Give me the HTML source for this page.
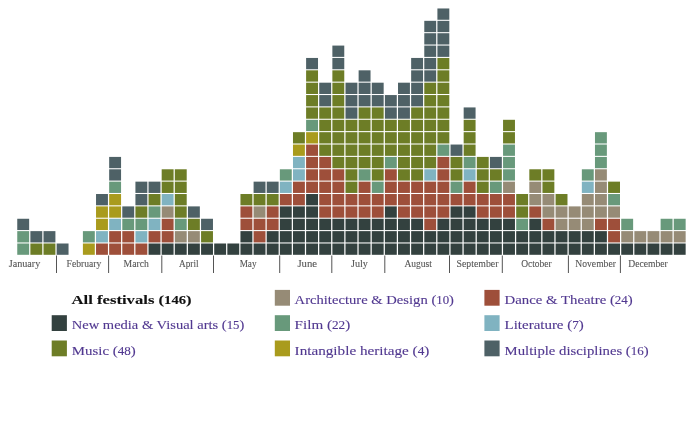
<!DOCTYPE html>
<html><head><meta charset="utf-8"><style>
html,body{margin:0;padding:0;background:#fff;width:690px;height:424px;overflow:hidden}
svg{position:absolute;left:0;top:0;will-change:transform}
.m{font-family:"Liberation Serif",serif;font-size:10.2px;fill:#555;stroke:#555;stroke-width:0.1px}
.d{font-size:11.6px}
.lg{font-family:"Liberation Serif",serif;font-size:13.2px;fill:#513890;stroke:#513890;stroke-width:0.12px}
.lb{font-family:"Liberation Serif",serif;font-size:13.2px;fill:#111;font-weight:bold;stroke:#111;stroke-width:0.1px}
</style></head><body>
<svg width="690" height="424" viewBox="0 0 690 424">
<g>
<rect x="17.25" y="243.50" width="11.9" height="11.3" fill="#68997b"/>
<rect x="17.25" y="231.13" width="11.9" height="11.3" fill="#68997b"/>
<rect x="17.25" y="218.76" width="11.9" height="11.3" fill="#4e6166"/>
<rect x="30.38" y="243.50" width="11.9" height="11.3" fill="#6d7d26"/>
<rect x="30.38" y="231.13" width="11.9" height="11.3" fill="#4e6166"/>
<rect x="43.51" y="243.50" width="11.9" height="11.3" fill="#6d7d26"/>
<rect x="43.51" y="231.13" width="11.9" height="11.3" fill="#4e6166"/>
<rect x="56.64" y="243.50" width="11.9" height="11.3" fill="#4e6166"/>
<rect x="82.90" y="243.50" width="11.9" height="11.3" fill="#a99b1d"/>
<rect x="82.90" y="231.13" width="11.9" height="11.3" fill="#68997b"/>
<rect x="96.03" y="243.50" width="11.9" height="11.3" fill="#9e4f3a"/>
<rect x="96.03" y="231.13" width="11.9" height="11.3" fill="#80b3c1"/>
<rect x="96.03" y="218.76" width="11.9" height="11.3" fill="#a99b1d"/>
<rect x="96.03" y="206.39" width="11.9" height="11.3" fill="#a99b1d"/>
<rect x="96.03" y="194.02" width="11.9" height="11.3" fill="#4e6166"/>
<rect x="109.16" y="243.50" width="11.9" height="11.3" fill="#9e4f3a"/>
<rect x="109.16" y="231.13" width="11.9" height="11.3" fill="#9e4f3a"/>
<rect x="109.16" y="218.76" width="11.9" height="11.3" fill="#80b3c1"/>
<rect x="109.16" y="206.39" width="11.9" height="11.3" fill="#a99b1d"/>
<rect x="109.16" y="194.02" width="11.9" height="11.3" fill="#a99b1d"/>
<rect x="109.16" y="181.65" width="11.9" height="11.3" fill="#68997b"/>
<rect x="109.16" y="169.28" width="11.9" height="11.3" fill="#4e6166"/>
<rect x="109.16" y="156.91" width="11.9" height="11.3" fill="#4e6166"/>
<rect x="122.29" y="243.50" width="11.9" height="11.3" fill="#9e4f3a"/>
<rect x="122.29" y="231.13" width="11.9" height="11.3" fill="#9e4f3a"/>
<rect x="122.29" y="218.76" width="11.9" height="11.3" fill="#68997b"/>
<rect x="122.29" y="206.39" width="11.9" height="11.3" fill="#4e6166"/>
<rect x="135.42" y="243.50" width="11.9" height="11.3" fill="#9e4f3a"/>
<rect x="135.42" y="231.13" width="11.9" height="11.3" fill="#80b3c1"/>
<rect x="135.42" y="218.76" width="11.9" height="11.3" fill="#68997b"/>
<rect x="135.42" y="206.39" width="11.9" height="11.3" fill="#6d7d26"/>
<rect x="135.42" y="194.02" width="11.9" height="11.3" fill="#4e6166"/>
<rect x="135.42" y="181.65" width="11.9" height="11.3" fill="#4e6166"/>
<rect x="148.55" y="243.50" width="11.9" height="11.3" fill="#33413f"/>
<rect x="148.55" y="231.13" width="11.9" height="11.3" fill="#9e4f3a"/>
<rect x="148.55" y="218.76" width="11.9" height="11.3" fill="#80b3c1"/>
<rect x="148.55" y="206.39" width="11.9" height="11.3" fill="#68997b"/>
<rect x="148.55" y="194.02" width="11.9" height="11.3" fill="#6d7d26"/>
<rect x="148.55" y="181.65" width="11.9" height="11.3" fill="#4e6166"/>
<rect x="161.68" y="243.50" width="11.9" height="11.3" fill="#33413f"/>
<rect x="161.68" y="231.13" width="11.9" height="11.3" fill="#9e4f3a"/>
<rect x="161.68" y="218.76" width="11.9" height="11.3" fill="#9e4f3a"/>
<rect x="161.68" y="206.39" width="11.9" height="11.3" fill="#968b76"/>
<rect x="161.68" y="194.02" width="11.9" height="11.3" fill="#80b3c1"/>
<rect x="161.68" y="181.65" width="11.9" height="11.3" fill="#6d7d26"/>
<rect x="161.68" y="169.28" width="11.9" height="11.3" fill="#6d7d26"/>
<rect x="174.81" y="243.50" width="11.9" height="11.3" fill="#33413f"/>
<rect x="174.81" y="231.13" width="11.9" height="11.3" fill="#968b76"/>
<rect x="174.81" y="218.76" width="11.9" height="11.3" fill="#68997b"/>
<rect x="174.81" y="206.39" width="11.9" height="11.3" fill="#6d7d26"/>
<rect x="174.81" y="194.02" width="11.9" height="11.3" fill="#6d7d26"/>
<rect x="174.81" y="181.65" width="11.9" height="11.3" fill="#6d7d26"/>
<rect x="174.81" y="169.28" width="11.9" height="11.3" fill="#6d7d26"/>
<rect x="187.94" y="243.50" width="11.9" height="11.3" fill="#33413f"/>
<rect x="187.94" y="231.13" width="11.9" height="11.3" fill="#968b76"/>
<rect x="187.94" y="218.76" width="11.9" height="11.3" fill="#6d7d26"/>
<rect x="187.94" y="206.39" width="11.9" height="11.3" fill="#4e6166"/>
<rect x="201.07" y="243.50" width="11.9" height="11.3" fill="#33413f"/>
<rect x="201.07" y="231.13" width="11.9" height="11.3" fill="#6d7d26"/>
<rect x="201.07" y="218.76" width="11.9" height="11.3" fill="#4e6166"/>
<rect x="214.20" y="243.50" width="11.9" height="11.3" fill="#33413f"/>
<rect x="227.33" y="243.50" width="11.9" height="11.3" fill="#33413f"/>
<rect x="240.46" y="243.50" width="11.9" height="11.3" fill="#33413f"/>
<rect x="240.46" y="231.13" width="11.9" height="11.3" fill="#33413f"/>
<rect x="240.46" y="218.76" width="11.9" height="11.3" fill="#9e4f3a"/>
<rect x="240.46" y="206.39" width="11.9" height="11.3" fill="#9e4f3a"/>
<rect x="240.46" y="194.02" width="11.9" height="11.3" fill="#6d7d26"/>
<rect x="253.59" y="243.50" width="11.9" height="11.3" fill="#33413f"/>
<rect x="253.59" y="231.13" width="11.9" height="11.3" fill="#9e4f3a"/>
<rect x="253.59" y="218.76" width="11.9" height="11.3" fill="#9e4f3a"/>
<rect x="253.59" y="206.39" width="11.9" height="11.3" fill="#968b76"/>
<rect x="253.59" y="194.02" width="11.9" height="11.3" fill="#6d7d26"/>
<rect x="253.59" y="181.65" width="11.9" height="11.3" fill="#4e6166"/>
<rect x="266.72" y="243.50" width="11.9" height="11.3" fill="#33413f"/>
<rect x="266.72" y="231.13" width="11.9" height="11.3" fill="#33413f"/>
<rect x="266.72" y="218.76" width="11.9" height="11.3" fill="#9e4f3a"/>
<rect x="266.72" y="206.39" width="11.9" height="11.3" fill="#9e4f3a"/>
<rect x="266.72" y="194.02" width="11.9" height="11.3" fill="#6d7d26"/>
<rect x="266.72" y="181.65" width="11.9" height="11.3" fill="#4e6166"/>
<rect x="279.85" y="243.50" width="11.9" height="11.3" fill="#33413f"/>
<rect x="279.85" y="231.13" width="11.9" height="11.3" fill="#33413f"/>
<rect x="279.85" y="218.76" width="11.9" height="11.3" fill="#33413f"/>
<rect x="279.85" y="206.39" width="11.9" height="11.3" fill="#33413f"/>
<rect x="279.85" y="194.02" width="11.9" height="11.3" fill="#9e4f3a"/>
<rect x="279.85" y="181.65" width="11.9" height="11.3" fill="#80b3c1"/>
<rect x="279.85" y="169.28" width="11.9" height="11.3" fill="#68997b"/>
<rect x="292.98" y="243.50" width="11.9" height="11.3" fill="#33413f"/>
<rect x="292.98" y="231.13" width="11.9" height="11.3" fill="#33413f"/>
<rect x="292.98" y="218.76" width="11.9" height="11.3" fill="#33413f"/>
<rect x="292.98" y="206.39" width="11.9" height="11.3" fill="#33413f"/>
<rect x="292.98" y="194.02" width="11.9" height="11.3" fill="#9e4f3a"/>
<rect x="292.98" y="181.65" width="11.9" height="11.3" fill="#9e4f3a"/>
<rect x="292.98" y="169.28" width="11.9" height="11.3" fill="#80b3c1"/>
<rect x="292.98" y="156.91" width="11.9" height="11.3" fill="#80b3c1"/>
<rect x="292.98" y="144.54" width="11.9" height="11.3" fill="#a99b1d"/>
<rect x="292.98" y="132.17" width="11.9" height="11.3" fill="#6d7d26"/>
<rect x="306.11" y="243.50" width="11.9" height="11.3" fill="#33413f"/>
<rect x="306.11" y="231.13" width="11.9" height="11.3" fill="#33413f"/>
<rect x="306.11" y="218.76" width="11.9" height="11.3" fill="#33413f"/>
<rect x="306.11" y="206.39" width="11.9" height="11.3" fill="#33413f"/>
<rect x="306.11" y="194.02" width="11.9" height="11.3" fill="#33413f"/>
<rect x="306.11" y="181.65" width="11.9" height="11.3" fill="#9e4f3a"/>
<rect x="306.11" y="169.28" width="11.9" height="11.3" fill="#9e4f3a"/>
<rect x="306.11" y="156.91" width="11.9" height="11.3" fill="#9e4f3a"/>
<rect x="306.11" y="144.54" width="11.9" height="11.3" fill="#9e4f3a"/>
<rect x="306.11" y="132.17" width="11.9" height="11.3" fill="#a99b1d"/>
<rect x="306.11" y="119.80" width="11.9" height="11.3" fill="#68997b"/>
<rect x="306.11" y="107.43" width="11.9" height="11.3" fill="#6d7d26"/>
<rect x="306.11" y="95.06" width="11.9" height="11.3" fill="#6d7d26"/>
<rect x="306.11" y="82.69" width="11.9" height="11.3" fill="#6d7d26"/>
<rect x="306.11" y="70.32" width="11.9" height="11.3" fill="#6d7d26"/>
<rect x="306.11" y="57.95" width="11.9" height="11.3" fill="#4e6166"/>
<rect x="319.24" y="243.50" width="11.9" height="11.3" fill="#33413f"/>
<rect x="319.24" y="231.13" width="11.9" height="11.3" fill="#33413f"/>
<rect x="319.24" y="218.76" width="11.9" height="11.3" fill="#33413f"/>
<rect x="319.24" y="206.39" width="11.9" height="11.3" fill="#9e4f3a"/>
<rect x="319.24" y="194.02" width="11.9" height="11.3" fill="#9e4f3a"/>
<rect x="319.24" y="181.65" width="11.9" height="11.3" fill="#9e4f3a"/>
<rect x="319.24" y="169.28" width="11.9" height="11.3" fill="#9e4f3a"/>
<rect x="319.24" y="156.91" width="11.9" height="11.3" fill="#9e4f3a"/>
<rect x="319.24" y="144.54" width="11.9" height="11.3" fill="#6d7d26"/>
<rect x="319.24" y="132.17" width="11.9" height="11.3" fill="#6d7d26"/>
<rect x="319.24" y="119.80" width="11.9" height="11.3" fill="#6d7d26"/>
<rect x="319.24" y="107.43" width="11.9" height="11.3" fill="#6d7d26"/>
<rect x="319.24" y="95.06" width="11.9" height="11.3" fill="#4e6166"/>
<rect x="319.24" y="82.69" width="11.9" height="11.3" fill="#4e6166"/>
<rect x="332.37" y="243.50" width="11.9" height="11.3" fill="#33413f"/>
<rect x="332.37" y="231.13" width="11.9" height="11.3" fill="#33413f"/>
<rect x="332.37" y="218.76" width="11.9" height="11.3" fill="#33413f"/>
<rect x="332.37" y="206.39" width="11.9" height="11.3" fill="#9e4f3a"/>
<rect x="332.37" y="194.02" width="11.9" height="11.3" fill="#9e4f3a"/>
<rect x="332.37" y="181.65" width="11.9" height="11.3" fill="#9e4f3a"/>
<rect x="332.37" y="169.28" width="11.9" height="11.3" fill="#9e4f3a"/>
<rect x="332.37" y="156.91" width="11.9" height="11.3" fill="#6d7d26"/>
<rect x="332.37" y="144.54" width="11.9" height="11.3" fill="#6d7d26"/>
<rect x="332.37" y="132.17" width="11.9" height="11.3" fill="#6d7d26"/>
<rect x="332.37" y="119.80" width="11.9" height="11.3" fill="#6d7d26"/>
<rect x="332.37" y="107.43" width="11.9" height="11.3" fill="#6d7d26"/>
<rect x="332.37" y="95.06" width="11.9" height="11.3" fill="#6d7d26"/>
<rect x="332.37" y="82.69" width="11.9" height="11.3" fill="#6d7d26"/>
<rect x="332.37" y="70.32" width="11.9" height="11.3" fill="#6d7d26"/>
<rect x="332.37" y="57.95" width="11.9" height="11.3" fill="#4e6166"/>
<rect x="332.37" y="45.58" width="11.9" height="11.3" fill="#4e6166"/>
<rect x="345.50" y="243.50" width="11.9" height="11.3" fill="#33413f"/>
<rect x="345.50" y="231.13" width="11.9" height="11.3" fill="#33413f"/>
<rect x="345.50" y="218.76" width="11.9" height="11.3" fill="#33413f"/>
<rect x="345.50" y="206.39" width="11.9" height="11.3" fill="#9e4f3a"/>
<rect x="345.50" y="194.02" width="11.9" height="11.3" fill="#9e4f3a"/>
<rect x="345.50" y="181.65" width="11.9" height="11.3" fill="#6d7d26"/>
<rect x="345.50" y="169.28" width="11.9" height="11.3" fill="#6d7d26"/>
<rect x="345.50" y="156.91" width="11.9" height="11.3" fill="#6d7d26"/>
<rect x="345.50" y="144.54" width="11.9" height="11.3" fill="#6d7d26"/>
<rect x="345.50" y="132.17" width="11.9" height="11.3" fill="#6d7d26"/>
<rect x="345.50" y="119.80" width="11.9" height="11.3" fill="#6d7d26"/>
<rect x="345.50" y="107.43" width="11.9" height="11.3" fill="#4e6166"/>
<rect x="345.50" y="95.06" width="11.9" height="11.3" fill="#4e6166"/>
<rect x="345.50" y="82.69" width="11.9" height="11.3" fill="#4e6166"/>
<rect x="358.63" y="243.50" width="11.9" height="11.3" fill="#33413f"/>
<rect x="358.63" y="231.13" width="11.9" height="11.3" fill="#33413f"/>
<rect x="358.63" y="218.76" width="11.9" height="11.3" fill="#33413f"/>
<rect x="358.63" y="206.39" width="11.9" height="11.3" fill="#9e4f3a"/>
<rect x="358.63" y="194.02" width="11.9" height="11.3" fill="#9e4f3a"/>
<rect x="358.63" y="181.65" width="11.9" height="11.3" fill="#9e4f3a"/>
<rect x="358.63" y="169.28" width="11.9" height="11.3" fill="#68997b"/>
<rect x="358.63" y="156.91" width="11.9" height="11.3" fill="#6d7d26"/>
<rect x="358.63" y="144.54" width="11.9" height="11.3" fill="#6d7d26"/>
<rect x="358.63" y="132.17" width="11.9" height="11.3" fill="#6d7d26"/>
<rect x="358.63" y="119.80" width="11.9" height="11.3" fill="#6d7d26"/>
<rect x="358.63" y="107.43" width="11.9" height="11.3" fill="#6d7d26"/>
<rect x="358.63" y="95.06" width="11.9" height="11.3" fill="#4e6166"/>
<rect x="358.63" y="82.69" width="11.9" height="11.3" fill="#4e6166"/>
<rect x="358.63" y="70.32" width="11.9" height="11.3" fill="#4e6166"/>
<rect x="371.76" y="243.50" width="11.9" height="11.3" fill="#33413f"/>
<rect x="371.76" y="231.13" width="11.9" height="11.3" fill="#33413f"/>
<rect x="371.76" y="218.76" width="11.9" height="11.3" fill="#33413f"/>
<rect x="371.76" y="206.39" width="11.9" height="11.3" fill="#9e4f3a"/>
<rect x="371.76" y="194.02" width="11.9" height="11.3" fill="#9e4f3a"/>
<rect x="371.76" y="181.65" width="11.9" height="11.3" fill="#68997b"/>
<rect x="371.76" y="169.28" width="11.9" height="11.3" fill="#6d7d26"/>
<rect x="371.76" y="156.91" width="11.9" height="11.3" fill="#6d7d26"/>
<rect x="371.76" y="144.54" width="11.9" height="11.3" fill="#6d7d26"/>
<rect x="371.76" y="132.17" width="11.9" height="11.3" fill="#6d7d26"/>
<rect x="371.76" y="119.80" width="11.9" height="11.3" fill="#6d7d26"/>
<rect x="371.76" y="107.43" width="11.9" height="11.3" fill="#6d7d26"/>
<rect x="371.76" y="95.06" width="11.9" height="11.3" fill="#4e6166"/>
<rect x="371.76" y="82.69" width="11.9" height="11.3" fill="#4e6166"/>
<rect x="384.89" y="243.50" width="11.9" height="11.3" fill="#33413f"/>
<rect x="384.89" y="231.13" width="11.9" height="11.3" fill="#33413f"/>
<rect x="384.89" y="218.76" width="11.9" height="11.3" fill="#33413f"/>
<rect x="384.89" y="206.39" width="11.9" height="11.3" fill="#33413f"/>
<rect x="384.89" y="194.02" width="11.9" height="11.3" fill="#9e4f3a"/>
<rect x="384.89" y="181.65" width="11.9" height="11.3" fill="#9e4f3a"/>
<rect x="384.89" y="169.28" width="11.9" height="11.3" fill="#9e4f3a"/>
<rect x="384.89" y="156.91" width="11.9" height="11.3" fill="#68997b"/>
<rect x="384.89" y="144.54" width="11.9" height="11.3" fill="#6d7d26"/>
<rect x="384.89" y="132.17" width="11.9" height="11.3" fill="#6d7d26"/>
<rect x="384.89" y="119.80" width="11.9" height="11.3" fill="#6d7d26"/>
<rect x="384.89" y="107.43" width="11.9" height="11.3" fill="#4e6166"/>
<rect x="384.89" y="95.06" width="11.9" height="11.3" fill="#4e6166"/>
<rect x="398.02" y="243.50" width="11.9" height="11.3" fill="#33413f"/>
<rect x="398.02" y="231.13" width="11.9" height="11.3" fill="#33413f"/>
<rect x="398.02" y="218.76" width="11.9" height="11.3" fill="#33413f"/>
<rect x="398.02" y="206.39" width="11.9" height="11.3" fill="#9e4f3a"/>
<rect x="398.02" y="194.02" width="11.9" height="11.3" fill="#9e4f3a"/>
<rect x="398.02" y="181.65" width="11.9" height="11.3" fill="#9e4f3a"/>
<rect x="398.02" y="169.28" width="11.9" height="11.3" fill="#6d7d26"/>
<rect x="398.02" y="156.91" width="11.9" height="11.3" fill="#6d7d26"/>
<rect x="398.02" y="144.54" width="11.9" height="11.3" fill="#6d7d26"/>
<rect x="398.02" y="132.17" width="11.9" height="11.3" fill="#6d7d26"/>
<rect x="398.02" y="119.80" width="11.9" height="11.3" fill="#6d7d26"/>
<rect x="398.02" y="107.43" width="11.9" height="11.3" fill="#4e6166"/>
<rect x="398.02" y="95.06" width="11.9" height="11.3" fill="#4e6166"/>
<rect x="398.02" y="82.69" width="11.9" height="11.3" fill="#4e6166"/>
<rect x="411.15" y="243.50" width="11.9" height="11.3" fill="#33413f"/>
<rect x="411.15" y="231.13" width="11.9" height="11.3" fill="#33413f"/>
<rect x="411.15" y="218.76" width="11.9" height="11.3" fill="#33413f"/>
<rect x="411.15" y="206.39" width="11.9" height="11.3" fill="#9e4f3a"/>
<rect x="411.15" y="194.02" width="11.9" height="11.3" fill="#9e4f3a"/>
<rect x="411.15" y="181.65" width="11.9" height="11.3" fill="#9e4f3a"/>
<rect x="411.15" y="169.28" width="11.9" height="11.3" fill="#6d7d26"/>
<rect x="411.15" y="156.91" width="11.9" height="11.3" fill="#6d7d26"/>
<rect x="411.15" y="144.54" width="11.9" height="11.3" fill="#6d7d26"/>
<rect x="411.15" y="132.17" width="11.9" height="11.3" fill="#6d7d26"/>
<rect x="411.15" y="119.80" width="11.9" height="11.3" fill="#6d7d26"/>
<rect x="411.15" y="107.43" width="11.9" height="11.3" fill="#6d7d26"/>
<rect x="411.15" y="95.06" width="11.9" height="11.3" fill="#4e6166"/>
<rect x="411.15" y="82.69" width="11.9" height="11.3" fill="#4e6166"/>
<rect x="411.15" y="70.32" width="11.9" height="11.3" fill="#4e6166"/>
<rect x="411.15" y="57.95" width="11.9" height="11.3" fill="#4e6166"/>
<rect x="424.28" y="243.50" width="11.9" height="11.3" fill="#33413f"/>
<rect x="424.28" y="231.13" width="11.9" height="11.3" fill="#33413f"/>
<rect x="424.28" y="218.76" width="11.9" height="11.3" fill="#9e4f3a"/>
<rect x="424.28" y="206.39" width="11.9" height="11.3" fill="#9e4f3a"/>
<rect x="424.28" y="194.02" width="11.9" height="11.3" fill="#9e4f3a"/>
<rect x="424.28" y="181.65" width="11.9" height="11.3" fill="#9e4f3a"/>
<rect x="424.28" y="169.28" width="11.9" height="11.3" fill="#80b3c1"/>
<rect x="424.28" y="156.91" width="11.9" height="11.3" fill="#6d7d26"/>
<rect x="424.28" y="144.54" width="11.9" height="11.3" fill="#6d7d26"/>
<rect x="424.28" y="132.17" width="11.9" height="11.3" fill="#6d7d26"/>
<rect x="424.28" y="119.80" width="11.9" height="11.3" fill="#6d7d26"/>
<rect x="424.28" y="107.43" width="11.9" height="11.3" fill="#6d7d26"/>
<rect x="424.28" y="95.06" width="11.9" height="11.3" fill="#6d7d26"/>
<rect x="424.28" y="82.69" width="11.9" height="11.3" fill="#6d7d26"/>
<rect x="424.28" y="70.32" width="11.9" height="11.3" fill="#4e6166"/>
<rect x="424.28" y="57.95" width="11.9" height="11.3" fill="#4e6166"/>
<rect x="424.28" y="45.58" width="11.9" height="11.3" fill="#4e6166"/>
<rect x="424.28" y="33.21" width="11.9" height="11.3" fill="#4e6166"/>
<rect x="424.28" y="20.84" width="11.9" height="11.3" fill="#4e6166"/>
<rect x="437.41" y="243.50" width="11.9" height="11.3" fill="#33413f"/>
<rect x="437.41" y="231.13" width="11.9" height="11.3" fill="#33413f"/>
<rect x="437.41" y="218.76" width="11.9" height="11.3" fill="#33413f"/>
<rect x="437.41" y="206.39" width="11.9" height="11.3" fill="#9e4f3a"/>
<rect x="437.41" y="194.02" width="11.9" height="11.3" fill="#9e4f3a"/>
<rect x="437.41" y="181.65" width="11.9" height="11.3" fill="#9e4f3a"/>
<rect x="437.41" y="169.28" width="11.9" height="11.3" fill="#9e4f3a"/>
<rect x="437.41" y="156.91" width="11.9" height="11.3" fill="#9e4f3a"/>
<rect x="437.41" y="144.54" width="11.9" height="11.3" fill="#68997b"/>
<rect x="437.41" y="132.17" width="11.9" height="11.3" fill="#6d7d26"/>
<rect x="437.41" y="119.80" width="11.9" height="11.3" fill="#6d7d26"/>
<rect x="437.41" y="107.43" width="11.9" height="11.3" fill="#6d7d26"/>
<rect x="437.41" y="95.06" width="11.9" height="11.3" fill="#6d7d26"/>
<rect x="437.41" y="82.69" width="11.9" height="11.3" fill="#6d7d26"/>
<rect x="437.41" y="70.32" width="11.9" height="11.3" fill="#6d7d26"/>
<rect x="437.41" y="57.95" width="11.9" height="11.3" fill="#6d7d26"/>
<rect x="437.41" y="45.58" width="11.9" height="11.3" fill="#4e6166"/>
<rect x="437.41" y="33.21" width="11.9" height="11.3" fill="#4e6166"/>
<rect x="437.41" y="20.84" width="11.9" height="11.3" fill="#4e6166"/>
<rect x="437.41" y="8.47" width="11.9" height="11.3" fill="#4e6166"/>
<rect x="450.54" y="243.50" width="11.9" height="11.3" fill="#33413f"/>
<rect x="450.54" y="231.13" width="11.9" height="11.3" fill="#33413f"/>
<rect x="450.54" y="218.76" width="11.9" height="11.3" fill="#33413f"/>
<rect x="450.54" y="206.39" width="11.9" height="11.3" fill="#33413f"/>
<rect x="450.54" y="194.02" width="11.9" height="11.3" fill="#9e4f3a"/>
<rect x="450.54" y="181.65" width="11.9" height="11.3" fill="#68997b"/>
<rect x="450.54" y="169.28" width="11.9" height="11.3" fill="#6d7d26"/>
<rect x="450.54" y="156.91" width="11.9" height="11.3" fill="#6d7d26"/>
<rect x="450.54" y="144.54" width="11.9" height="11.3" fill="#4e6166"/>
<rect x="463.67" y="243.50" width="11.9" height="11.3" fill="#33413f"/>
<rect x="463.67" y="231.13" width="11.9" height="11.3" fill="#33413f"/>
<rect x="463.67" y="218.76" width="11.9" height="11.3" fill="#33413f"/>
<rect x="463.67" y="206.39" width="11.9" height="11.3" fill="#33413f"/>
<rect x="463.67" y="194.02" width="11.9" height="11.3" fill="#9e4f3a"/>
<rect x="463.67" y="181.65" width="11.9" height="11.3" fill="#9e4f3a"/>
<rect x="463.67" y="169.28" width="11.9" height="11.3" fill="#80b3c1"/>
<rect x="463.67" y="156.91" width="11.9" height="11.3" fill="#68997b"/>
<rect x="463.67" y="144.54" width="11.9" height="11.3" fill="#6d7d26"/>
<rect x="463.67" y="132.17" width="11.9" height="11.3" fill="#6d7d26"/>
<rect x="463.67" y="119.80" width="11.9" height="11.3" fill="#6d7d26"/>
<rect x="463.67" y="107.43" width="11.9" height="11.3" fill="#4e6166"/>
<rect x="476.80" y="243.50" width="11.9" height="11.3" fill="#33413f"/>
<rect x="476.80" y="231.13" width="11.9" height="11.3" fill="#33413f"/>
<rect x="476.80" y="218.76" width="11.9" height="11.3" fill="#33413f"/>
<rect x="476.80" y="206.39" width="11.9" height="11.3" fill="#9e4f3a"/>
<rect x="476.80" y="194.02" width="11.9" height="11.3" fill="#9e4f3a"/>
<rect x="476.80" y="181.65" width="11.9" height="11.3" fill="#6d7d26"/>
<rect x="476.80" y="169.28" width="11.9" height="11.3" fill="#6d7d26"/>
<rect x="476.80" y="156.91" width="11.9" height="11.3" fill="#6d7d26"/>
<rect x="489.93" y="243.50" width="11.9" height="11.3" fill="#33413f"/>
<rect x="489.93" y="231.13" width="11.9" height="11.3" fill="#33413f"/>
<rect x="489.93" y="218.76" width="11.9" height="11.3" fill="#33413f"/>
<rect x="489.93" y="206.39" width="11.9" height="11.3" fill="#9e4f3a"/>
<rect x="489.93" y="194.02" width="11.9" height="11.3" fill="#9e4f3a"/>
<rect x="489.93" y="181.65" width="11.9" height="11.3" fill="#68997b"/>
<rect x="489.93" y="169.28" width="11.9" height="11.3" fill="#6d7d26"/>
<rect x="489.93" y="156.91" width="11.9" height="11.3" fill="#4e6166"/>
<rect x="503.06" y="243.50" width="11.9" height="11.3" fill="#33413f"/>
<rect x="503.06" y="231.13" width="11.9" height="11.3" fill="#33413f"/>
<rect x="503.06" y="218.76" width="11.9" height="11.3" fill="#33413f"/>
<rect x="503.06" y="206.39" width="11.9" height="11.3" fill="#9e4f3a"/>
<rect x="503.06" y="194.02" width="11.9" height="11.3" fill="#9e4f3a"/>
<rect x="503.06" y="181.65" width="11.9" height="11.3" fill="#968b76"/>
<rect x="503.06" y="169.28" width="11.9" height="11.3" fill="#68997b"/>
<rect x="503.06" y="156.91" width="11.9" height="11.3" fill="#68997b"/>
<rect x="503.06" y="144.54" width="11.9" height="11.3" fill="#68997b"/>
<rect x="503.06" y="132.17" width="11.9" height="11.3" fill="#6d7d26"/>
<rect x="503.06" y="119.80" width="11.9" height="11.3" fill="#6d7d26"/>
<rect x="516.19" y="243.50" width="11.9" height="11.3" fill="#33413f"/>
<rect x="516.19" y="231.13" width="11.9" height="11.3" fill="#33413f"/>
<rect x="516.19" y="218.76" width="11.9" height="11.3" fill="#68997b"/>
<rect x="516.19" y="206.39" width="11.9" height="11.3" fill="#6d7d26"/>
<rect x="516.19" y="194.02" width="11.9" height="11.3" fill="#6d7d26"/>
<rect x="529.32" y="243.50" width="11.9" height="11.3" fill="#33413f"/>
<rect x="529.32" y="231.13" width="11.9" height="11.3" fill="#33413f"/>
<rect x="529.32" y="218.76" width="11.9" height="11.3" fill="#33413f"/>
<rect x="529.32" y="206.39" width="11.9" height="11.3" fill="#9e4f3a"/>
<rect x="529.32" y="194.02" width="11.9" height="11.3" fill="#968b76"/>
<rect x="529.32" y="181.65" width="11.9" height="11.3" fill="#968b76"/>
<rect x="529.32" y="169.28" width="11.9" height="11.3" fill="#6d7d26"/>
<rect x="542.45" y="243.50" width="11.9" height="11.3" fill="#33413f"/>
<rect x="542.45" y="231.13" width="11.9" height="11.3" fill="#33413f"/>
<rect x="542.45" y="218.76" width="11.9" height="11.3" fill="#9e4f3a"/>
<rect x="542.45" y="206.39" width="11.9" height="11.3" fill="#968b76"/>
<rect x="542.45" y="194.02" width="11.9" height="11.3" fill="#968b76"/>
<rect x="542.45" y="181.65" width="11.9" height="11.3" fill="#6d7d26"/>
<rect x="542.45" y="169.28" width="11.9" height="11.3" fill="#6d7d26"/>
<rect x="555.58" y="243.50" width="11.9" height="11.3" fill="#33413f"/>
<rect x="555.58" y="231.13" width="11.9" height="11.3" fill="#33413f"/>
<rect x="555.58" y="218.76" width="11.9" height="11.3" fill="#968b76"/>
<rect x="555.58" y="206.39" width="11.9" height="11.3" fill="#968b76"/>
<rect x="555.58" y="194.02" width="11.9" height="11.3" fill="#6d7d26"/>
<rect x="568.71" y="243.50" width="11.9" height="11.3" fill="#33413f"/>
<rect x="568.71" y="231.13" width="11.9" height="11.3" fill="#33413f"/>
<rect x="568.71" y="218.76" width="11.9" height="11.3" fill="#968b76"/>
<rect x="568.71" y="206.39" width="11.9" height="11.3" fill="#968b76"/>
<rect x="581.84" y="243.50" width="11.9" height="11.3" fill="#33413f"/>
<rect x="581.84" y="231.13" width="11.9" height="11.3" fill="#33413f"/>
<rect x="581.84" y="218.76" width="11.9" height="11.3" fill="#968b76"/>
<rect x="581.84" y="206.39" width="11.9" height="11.3" fill="#968b76"/>
<rect x="581.84" y="194.02" width="11.9" height="11.3" fill="#968b76"/>
<rect x="581.84" y="181.65" width="11.9" height="11.3" fill="#80b3c1"/>
<rect x="581.84" y="169.28" width="11.9" height="11.3" fill="#68997b"/>
<rect x="594.97" y="243.50" width="11.9" height="11.3" fill="#33413f"/>
<rect x="594.97" y="231.13" width="11.9" height="11.3" fill="#33413f"/>
<rect x="594.97" y="218.76" width="11.9" height="11.3" fill="#9e4f3a"/>
<rect x="594.97" y="206.39" width="11.9" height="11.3" fill="#968b76"/>
<rect x="594.97" y="194.02" width="11.9" height="11.3" fill="#968b76"/>
<rect x="594.97" y="181.65" width="11.9" height="11.3" fill="#968b76"/>
<rect x="594.97" y="169.28" width="11.9" height="11.3" fill="#968b76"/>
<rect x="594.97" y="156.91" width="11.9" height="11.3" fill="#68997b"/>
<rect x="594.97" y="144.54" width="11.9" height="11.3" fill="#68997b"/>
<rect x="594.97" y="132.17" width="11.9" height="11.3" fill="#68997b"/>
<rect x="608.10" y="243.50" width="11.9" height="11.3" fill="#33413f"/>
<rect x="608.10" y="231.13" width="11.9" height="11.3" fill="#9e4f3a"/>
<rect x="608.10" y="218.76" width="11.9" height="11.3" fill="#9e4f3a"/>
<rect x="608.10" y="206.39" width="11.9" height="11.3" fill="#968b76"/>
<rect x="608.10" y="194.02" width="11.9" height="11.3" fill="#68997b"/>
<rect x="608.10" y="181.65" width="11.9" height="11.3" fill="#6d7d26"/>
<rect x="621.23" y="243.50" width="11.9" height="11.3" fill="#33413f"/>
<rect x="621.23" y="231.13" width="11.9" height="11.3" fill="#968b76"/>
<rect x="621.23" y="218.76" width="11.9" height="11.3" fill="#68997b"/>
<rect x="634.36" y="243.50" width="11.9" height="11.3" fill="#33413f"/>
<rect x="634.36" y="231.13" width="11.9" height="11.3" fill="#968b76"/>
<rect x="647.49" y="243.50" width="11.9" height="11.3" fill="#33413f"/>
<rect x="647.49" y="231.13" width="11.9" height="11.3" fill="#968b76"/>
<rect x="660.62" y="243.50" width="11.9" height="11.3" fill="#33413f"/>
<rect x="660.62" y="231.13" width="11.9" height="11.3" fill="#968b76"/>
<rect x="660.62" y="218.76" width="11.9" height="11.3" fill="#68997b"/>
<rect x="673.75" y="243.50" width="11.9" height="11.3" fill="#33413f"/>
<rect x="673.75" y="231.13" width="11.9" height="11.3" fill="#968b76"/>
<rect x="673.75" y="218.76" width="11.9" height="11.3" fill="#68997b"/>
<rect x="56.00" y="255.5" width="1" height="17.5" fill="#555"/>
<rect x="108.10" y="255.5" width="1" height="17.5" fill="#555"/>
<rect x="161.30" y="255.5" width="1" height="17.5" fill="#555"/>
<rect x="213.00" y="255.5" width="1" height="17.5" fill="#555"/>
<rect x="279.20" y="255.5" width="1" height="17.5" fill="#555"/>
<rect x="331.30" y="255.5" width="1" height="17.5" fill="#555"/>
<rect x="384.30" y="255.5" width="1" height="17.5" fill="#555"/>
<rect x="449.00" y="255.5" width="1" height="17.5" fill="#555"/>
<rect x="501.80" y="255.5" width="1" height="17.5" fill="#555"/>
<rect x="567.90" y="255.5" width="1" height="17.5" fill="#555"/>
<rect x="619.90" y="255.5" width="1" height="17.5" fill="#555"/>
</g>
<g class="m">
<text x="24.5" y="266.8" text-anchor="middle" textLength="31.6" lengthAdjust="spacingAndGlyphs">January</text>
<text x="83.9" y="266.8" text-anchor="middle" textLength="34.6" lengthAdjust="spacingAndGlyphs">February</text>
<text x="136.2" y="266.8" text-anchor="middle" textLength="25.3" lengthAdjust="spacingAndGlyphs">March</text>
<text x="188.8" y="266.8" text-anchor="middle" textLength="19.6" lengthAdjust="spacingAndGlyphs">April</text>
<text x="248.1" y="266.8" text-anchor="middle" textLength="16.9" lengthAdjust="spacingAndGlyphs">May</text>
<text x="307.2" y="266.8" text-anchor="middle" textLength="19.6" lengthAdjust="spacingAndGlyphs">June</text>
<text x="359.4" y="266.8" text-anchor="middle" textLength="16.9" lengthAdjust="spacingAndGlyphs">July</text>
<text x="418.1" y="266.8" text-anchor="middle" textLength="27.4" lengthAdjust="spacingAndGlyphs">August</text>
<text x="477.5" y="266.8" text-anchor="middle" textLength="41.8" lengthAdjust="spacingAndGlyphs">September</text>
<text x="536.4" y="266.8" text-anchor="middle" textLength="30.5" lengthAdjust="spacingAndGlyphs">October</text>
<text x="595.6" y="266.8" text-anchor="middle" textLength="40.5" lengthAdjust="spacingAndGlyphs">November</text>
<text x="648.0" y="266.8" text-anchor="middle" textLength="39.5" lengthAdjust="spacingAndGlyphs">December</text>
</g>
<text class="lb" x="71.6" y="303.9" textLength="120.0" lengthAdjust="spacingAndGlyphs">All festivals (<tspan class="d">146</tspan>)</text>
<rect x="274.8" y="289.9" width="15.2" height="15.8" fill="#968b76"/>
<text class="lg" x="294.6" y="303.9" textLength="159.4" lengthAdjust="spacingAndGlyphs">Architecture &amp; Design (<tspan class="d">10</tspan>)</text>
<rect x="484.4" y="289.9" width="15.2" height="15.8" fill="#9e4f3a"/>
<text class="lg" x="504.6" y="303.9" textLength="128.2" lengthAdjust="spacingAndGlyphs">Dance &amp; Theatre (<tspan class="d">24</tspan>)</text>
<rect x="51.7" y="315.2" width="15.2" height="15.8" fill="#33413f"/>
<text class="lg" x="71.8" y="329.2" textLength="172.5" lengthAdjust="spacingAndGlyphs">New media &amp; Visual arts (<tspan class="d">15</tspan>)</text>
<rect x="274.8" y="315.2" width="15.2" height="15.8" fill="#68997b"/>
<text class="lg" x="294.6" y="329.2" textLength="55.7" lengthAdjust="spacingAndGlyphs">Film (<tspan class="d">22</tspan>)</text>
<rect x="484.4" y="315.2" width="15.2" height="15.8" fill="#80b3c1"/>
<text class="lg" x="504.6" y="329.2" textLength="79.2" lengthAdjust="spacingAndGlyphs">Literature (<tspan class="d">7</tspan>)</text>
<rect x="51.7" y="340.5" width="15.2" height="15.8" fill="#6d7d26"/>
<text class="lg" x="71.8" y="354.5" textLength="64.0" lengthAdjust="spacingAndGlyphs">Music (<tspan class="d">48</tspan>)</text>
<rect x="274.8" y="340.5" width="15.2" height="15.8" fill="#a99b1d"/>
<text class="lg" x="294.6" y="354.5" textLength="134.8" lengthAdjust="spacingAndGlyphs">Intangible heritage (<tspan class="d">4</tspan>)</text>
<rect x="484.4" y="340.5" width="15.2" height="15.8" fill="#4e6166"/>
<text class="lg" x="504.6" y="354.5" textLength="144.1" lengthAdjust="spacingAndGlyphs">Multiple disciplines (<tspan class="d">16</tspan>)</text>
</svg>
</body></html>
